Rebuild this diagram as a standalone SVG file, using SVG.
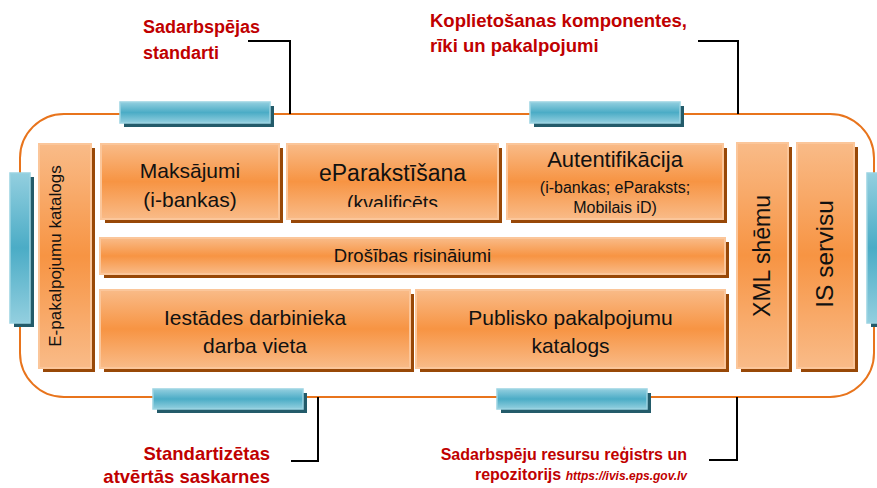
<svg xmlns="http://www.w3.org/2000/svg" width="877" height="488" viewBox="0 0 877 488">
  <defs>
    <linearGradient id="og" x1="0" y1="0" x2="0" y2="1">
      <stop offset="0" stop-color="#f9bb88"/>
      <stop offset="0.5" stop-color="#f79443"/>
      <stop offset="1" stop-color="#f9bb88"/>
    </linearGradient>
    <linearGradient id="bg" x1="0" y1="0" x2="0" y2="1">
      <stop offset="0" stop-color="#93cfdf"/>
      <stop offset="0.5" stop-color="#4bacc6"/>
      <stop offset="1" stop-color="#93cfdf"/>
    </linearGradient>
    <clipPath id="clipPar">
      <rect x="287" y="144" width="211" height="63"/>
    </clipPath>
    <style>
      .box { fill: url(#og); stroke: #fbc69a; stroke-width: 2; }
      .bsh { fill: #984807; }
      .bar { fill: url(#bg); stroke: #9ad3e2; stroke-width: 1.5; }
      .rsh { fill: #235b6a; }
      .t { font-family: "Liberation Sans", Arial, sans-serif; fill: #111; text-anchor: middle; }
      .lbl { font-family: "Liberation Sans", Arial, sans-serif; fill: #c00000; font-weight: bold; }
      .con { fill: none; stroke: #000; stroke-width: 2; }
    </style>
  </defs>

  <rect id="frame" x="20" y="114" width="854" height="283" rx="44" ry="44" fill="none" stroke="#e8741c" stroke-width="2"/>

  <g id="bars">
    <g id="bar-top-left"><rect class="rsh" x="124" y="106" width="150" height="21"/><rect class="bar" x="120" y="102" width="150" height="21"/></g>
    <g id="bar-top-right"><rect class="rsh" x="534" y="106" width="150" height="21"/><rect class="bar" x="530" y="102" width="150" height="21"/></g>
    <g id="bar-bottom-left"><rect class="rsh" x="157" y="393" width="150" height="20"/><rect class="bar" x="153" y="389" width="150" height="20"/></g>
    <g id="bar-bottom-right"><rect class="rsh" x="501" y="393" width="150" height="20"/><rect class="bar" x="497" y="389" width="150" height="20"/></g>
    <g id="bar-left"><rect class="rsh" x="14" y="177" width="20" height="150"/><rect class="bar" x="10" y="173" width="20" height="150"/></g>
    <g id="bar-right"><rect class="rsh" x="871" y="177" width="20" height="150"/><rect class="bar" x="867" y="173" width="20" height="150"/></g>
  </g>

  <g id="connectors">
    <polyline class="con" points="248,41 290,41 290,114"/>
    <polyline class="con" points="698,41 738,41 738,114"/>
    <polyline class="con" points="291,461 318,461 318,397"/>
    <polyline class="con" points="709,460 737,460 737,397"/>
  </g>

  <g id="n-epak">
    <rect class="bsh" x="43" y="148" width="52" height="224"/>
    <rect class="box" x="39" y="144" width="52" height="224"/>
    <text class="t" font-size="17" transform="translate(61,256) rotate(-90)">E-pakalpojumu katalogs</text>
  </g>

  <g id="n-maks">
    <rect class="bsh" x="105" y="148" width="178" height="75"/>
    <rect class="box" x="101" y="144" width="178" height="75"/>
    <text class="t" font-size="21" x="190" y="178">Maksājumi</text>
    <text class="t" font-size="21" x="190" y="207">(i-bankas)</text>
  </g>

  <g id="n-epar">
    <rect class="bsh" x="291" y="148" width="211" height="75"/>
    <rect class="box" x="287" y="144" width="211" height="75"/>
    <text class="t" font-size="23" x="392.5" y="181">eParakstīšana</text>
    <text class="t" font-size="19.5" x="392.5" y="210" clip-path="url(#clipPar)">(kvalificēts</text>
  </g>

  <g id="n-aut">
    <rect class="bsh" x="511" y="148" width="216" height="75"/>
    <rect class="box" x="507" y="144" width="216" height="75"/>
    <text class="t" font-size="22" x="615" y="167">Autentifikācija</text>
    <text class="t" font-size="16" x="615" y="193">(i-bankas; eParaksts;</text>
    <text class="t" font-size="16" x="615" y="213">Mobilais iD)</text>
  </g>

  <g id="n-dros">
    <rect class="bsh" x="104" y="242" width="625" height="36"/>
    <rect class="box" x="100" y="238" width="625" height="36"/>
    <text class="t" font-size="18.5" x="412.5" y="262">Drošības risināiumi</text>
  </g>

  <g id="n-iest">
    <rect class="bsh" x="104" y="294" width="310" height="78"/>
    <rect class="box" x="100" y="290" width="310" height="78"/>
    <text class="t" font-size="21" x="255" y="325">Iestādes darbinieka</text>
    <text class="t" font-size="21" x="255" y="353">darba vieta</text>
  </g>

  <g id="n-publ">
    <rect class="bsh" x="420" y="294" width="309" height="78"/>
    <rect class="box" x="416" y="290" width="309" height="78"/>
    <text class="t" font-size="21" x="570.5" y="325">Publisko pakalpojumu</text>
    <text class="t" font-size="21" x="570.5" y="353">katalogs</text>
  </g>

  <g id="n-xml">
    <rect class="bsh" x="741" y="147" width="51" height="225"/>
    <rect class="box" x="737" y="143" width="51" height="225"/>
    <text class="t" font-size="23" transform="translate(770,256) rotate(-90)">XML shēmu</text>
  </g>

  <g id="n-is">
    <rect class="bsh" x="801" y="147" width="57" height="225"/>
    <rect class="box" x="797" y="143" width="57" height="225"/>
    <text class="t" font-size="24.5" transform="translate(833,254) rotate(-90)">IS servisu</text>
  </g>

  <g id="labels">
    <text class="lbl" font-size="18" x="143" y="33">Sadarbspējas</text>
    <text class="lbl" font-size="18" x="143" y="59">standarti</text>
    <text class="lbl" font-size="18.5" x="430" y="27">Koplietošanas komponentes,</text>
    <text class="lbl" font-size="18.5" x="430" y="52">rīki un pakalpojumi</text>
    <text class="lbl" font-size="18.5" x="270" y="460" text-anchor="end">Standartizētas</text>
    <text class="lbl" font-size="18.5" x="270" y="483" text-anchor="end">atvērtās saskarnes</text>
    <text class="lbl" font-size="16" x="687" y="460" text-anchor="end">Sadarbspēju resursu reģistrs un</text>
    <text class="lbl" font-size="16" x="687" y="480" text-anchor="end">repozitorijs <tspan font-size="12" font-style="italic">https://ivis.eps.gov.lv</tspan></text>
  </g>
</svg>
